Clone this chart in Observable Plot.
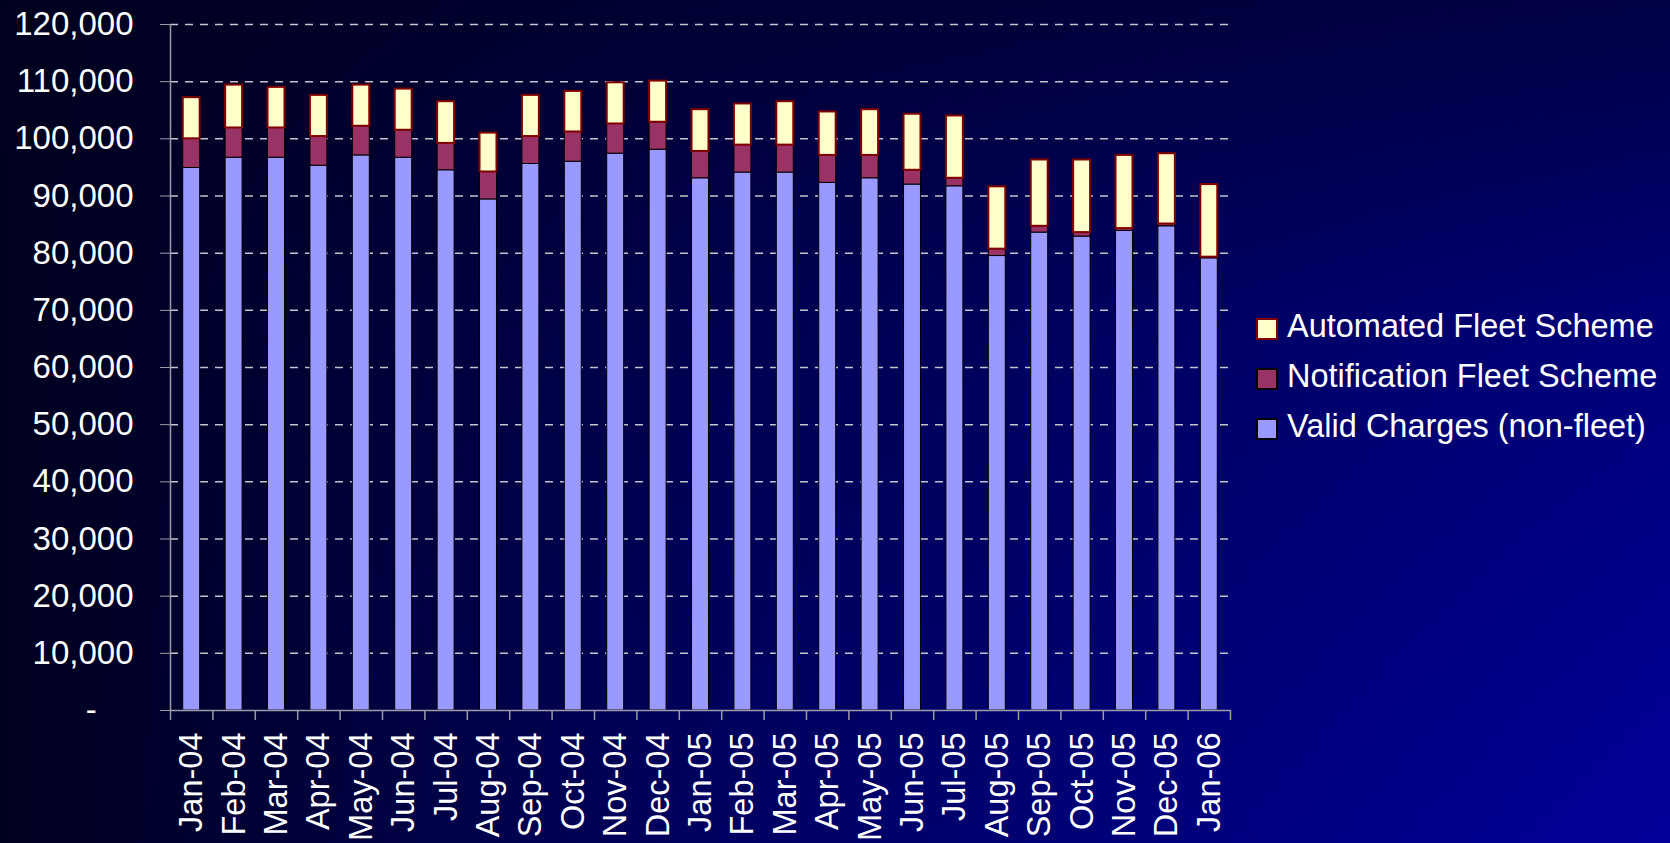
<!DOCTYPE html>
<html>
<head>
<meta charset="utf-8">
<script src="https://cdn.jsdelivr.net/npm/d3@7"></script>
<script src="https://cdn.jsdelivr.net/npm/@observablehq/plot@0.6"></script>
<style>
  html, body { margin: 0; padding: 0; width: 1670px; height: 843px; overflow: hidden; }
  body {
    position: relative;
    font-family: "Liberation Sans", Arial, sans-serif;
    color: white;
    background:
      linear-gradient(to bottom, rgba(0,0,30,0.69) 0%, rgba(0,0,30,0.25) 40%, rgba(0,0,30,0) 100%),
      linear-gradient(to right, #00001e 0%, #000060 42%, #000099 100%);
  }
  #chart { position: absolute; left: 0; top: 0; }
  #legend { position: absolute; left: 1256px; top: 301px; }
  .row { display: flex; align-items: center; height: 50px; line-height: 50px; font-size: 32.5px; white-space: nowrap; }
  .sw { box-sizing: border-box; width: 22px; height: 22px; border: 2px solid; margin-right: 9px; position: relative; top: 3px; }
</style>
</head>
<body>
<div id="chart"></div>
<div id="legend"></div>
<script>
const months = ["Jan-04","Feb-04","Mar-04","Apr-04","May-04","Jun-04","Jul-04","Aug-04","Sep-04","Oct-04","Nov-04","Dec-04",
                "Jan-05","Feb-05","Mar-05","Apr-05","May-05","Jun-05","Jul-05","Aug-05","Sep-05","Oct-05","Nov-05","Dec-05","Jan-06"];
const validCharges = [94900, 96700, 96700, 95300, 97100, 96700, 94500, 89400, 95600, 96000, 97400, 98100,
                      93100, 94100, 94100, 92300, 93100, 92000, 91700, 79500, 83600, 82900, 83900, 84700, 79100];
const notificationFleet = [5100, 5200, 5200, 5100, 5100, 4800, 4700, 4800, 4800, 5200, 5200, 4800,
                           4700, 4800, 4800, 4800, 4000, 2500, 1400, 1200, 1100, 700, 400, 400, 200];
const automatedFleet = [7200, 7500, 7100, 7200, 7200, 7200, 7300, 6800, 7200, 7100, 7200, 7200,
                        7300, 7200, 7600, 7600, 8000, 9800, 10900, 10900, 11600, 12700, 12800, 12300, 12700];
const seriesNames = ["Valid Charges (non-fleet)", "Notification Fleet Scheme", "Automated Fleet Scheme"];
const yTicks = [0, 10000, 20000, 30000, 40000, 50000, 60000, 70000, 80000, 90000, 100000, 110000, 120000];
const yMax = 120000;

// styles
const fills = {"Valid Charges (non-fleet)": "#9999ff", "Notification Fleet Scheme": "#993366", "Automated Fleet Scheme": "#ffffcc"};
const strokes = {"Valid Charges (non-fleet)": "#000000", "Notification Fleet Scheme": "#000000", "Automated Fleet Scheme": "#800000"};
const strokeWidths = {"Valid Charges (non-fleet)": 1, "Notification Fleet Scheme": 1, "Automated Fleet Scheme": 2};
const axisColor = "#9a9aa8";
const gridColor = "#c4c4cc";

const seriesValues = [validCharges, notificationFleet, automatedFleet];
const long = [];
seriesNames.forEach((s, k) => months.forEach((m, i) => long.push({month: m, series: s, value: seriesValues[k][i]})));

const W = 1670, H = 843, mL = 170, mR = 440, mT = 24, mB = 133;
const step = (W - mL - mR) / months.length;

const plot = Plot.plot({
  width: W,
  height: H,
  marginLeft: mL,
  marginRight: mR,
  marginTop: mT,
  marginBottom: mB,
  style: {background: "transparent", color: "white", fontFamily: "'Liberation Sans', Arial, sans-serif", fontSize: "33px"},
  x: {domain: months, paddingInner: 0.6, paddingOuter: 0.3, round: false, label: null},
  y: {domain: [0, yMax], label: null},
  marks: [
    Plot.gridY(yTicks.filter(t => t > 0), {stroke: gridColor, strokeOpacity: 1, strokeWidth: 1.5, strokeDasharray: "8,7"}),
    Plot.barY(long, Plot.stackY({
      x: "month", y: "value", z: "series", order: null,
      fill: d => fills[d.series],
      stroke: d => strokes[d.series],
      strokeWidth: d => strokeWidths[d.series]
    })),
    Plot.ruleY([0], {stroke: axisColor, strokeWidth: 1.5}),
    Plot.ruleX([months[0]], {y1: 0, y2: yMax, dx: -step / 2, stroke: axisColor, strokeWidth: 1.5}),
    Plot.axisY({ticks: yTicks, tickSize: 10, tickPadding: 27, fontSize: 33, stroke: axisColor, fill: "white", label: null,
      tickFormat: v => v === 0 ? "-\u00a0\u00a0\u00a0\u00a0" : d3.format(",")(v)}),
    Plot.axisX({tickSize: 0, tickPadding: 22, tickRotate: -90, fontSize: 32.5, fill: "white", label: null}),
    Plot.axisX({tickSize: 10, fill: "none", stroke: axisColor, strokeWidth: 1.5, dx: -step / 2, label: null}),
    Plot.axisX({ticks: [months[months.length - 1]], tickSize: 10, fill: "none", stroke: axisColor, strokeWidth: 1.5, dx: step / 2, label: null})
  ]
});
document.getElementById("chart").appendChild(plot);

// legend (top to bottom: reversed stack order)
const legend = document.getElementById("legend");
seriesNames.slice().reverse().forEach(s => {
  const row = document.createElement("div");
  row.className = "row";
  const sw = document.createElement("span");
  sw.className = "sw";
  sw.style.background = fills[s];
  sw.style.borderColor = strokes[s];
  const label = document.createElement("span");
  label.textContent = s;
  row.appendChild(sw);
  row.appendChild(label);
  legend.appendChild(row);
});
</script>
</body>
</html>
